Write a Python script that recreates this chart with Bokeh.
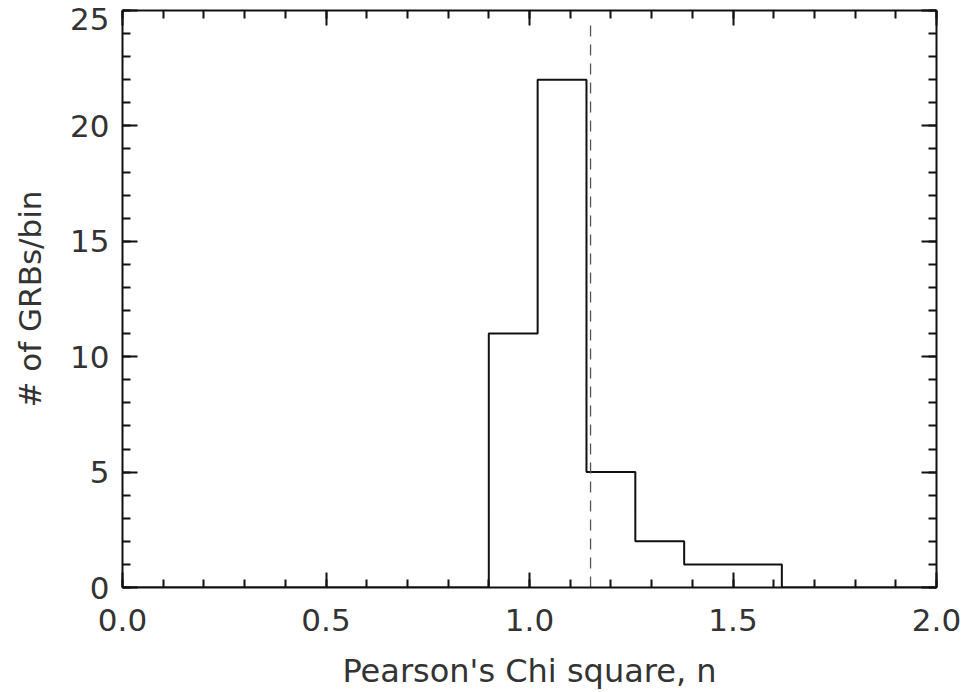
from bokeh.plotting import figure
from bokeh.models import FixedTicker, LinearAxis, PrintfTickFormatter, Range1d
from bokeh.embed import file_html
from bokeh.resources import INLINE

# Histogram data (bin edges and counts)
bin_edges = [0.90, 1.02, 1.14, 1.26, 1.38, 1.50, 1.62]
counts = [11, 22, 5, 2, 1, 1]
x_min, x_max = 0.0, 2.0
y_min, y_max = 0, 25
chi_mark = 1.15

x_major = [0.0, 0.5, 1.0, 1.5, 2.0]
x_minor = [round(0.1 * i, 1) for i in range(0, 21)]
y_major = [0, 5, 10, 15, 20, 25]
y_minor = list(range(0, 26))

FONT = "DejaVu Sans"
TXT = "#333333"

p = figure(width=969, height=692, output_backend="svg", toolbar_location=None,
           x_range=Range1d(x_min, x_max), y_range=Range1d(y_min, y_max),
           min_border_left=122, min_border_right=33, min_border_top=10,
           min_border_bottom=104, x_axis_location=None, y_axis_location=None)
p.grid.visible = False
p.outline_line_color = None
p.background_fill_color = "white"
p.border_fill_color = "white"

xt = FixedTicker(ticks=x_major, minor_ticks=x_minor)
yt = FixedTicker(ticks=y_major, minor_ticks=y_minor)


def style(ax, labels=True):
    ax.axis_line_color = "#111111"
    ax.axis_line_width = 2
    ax.major_tick_in = 15
    ax.major_tick_out = 0
    ax.minor_tick_in = 8
    ax.minor_tick_out = 0
    ax.major_tick_line_color = "#111111"
    ax.minor_tick_line_color = "#111111"
    ax.major_tick_line_width = 2
    ax.minor_tick_line_width = 2
    if labels:
        ax.major_label_text_font = FONT
        ax.major_label_text_font_size = "31px"
        ax.major_label_text_color = TXT
        ax.axis_label_text_font = FONT
        ax.axis_label_text_font_size = "31px"
        ax.axis_label_text_font_style = "normal"
        ax.axis_label_text_color = TXT
    else:
        ax.major_label_text_font_size = "0px"


xb = LinearAxis(ticker=xt, formatter=PrintfTickFormatter(format="%.1f"),
                axis_label="Pearson's Chi square, n")
style(xb)
xb.axis_label_text_font_size = "32px"
xb.major_label_standoff = 21
xb.axis_label_standoff = 18
p.add_layout(xb, "below")

# the top label is pushed down a little so it stays inside the page
yl = LinearAxis(ticker=yt, axis_label="# of GRBs/bin",
                major_label_overrides={y_max: "\n" + str(y_max)})
style(yl)
yl.major_label_text_line_height = 0.0
yl.major_label_standoff = 13
yl.axis_label_standoff = 19
p.add_layout(yl, "left")

xa = LinearAxis(ticker=xt)
style(xa, labels=False)
p.add_layout(xa, "above")

yr = LinearAxis(ticker=yt)
style(yr, labels=False)
p.add_layout(yr, "right")

# step outline of the histogram
step_x = [x_min] + bin_edges + [x_max]
step_y = [0] + counts + [0, 0]
p.step(step_x, step_y, mode="after", line_color="#111111", line_width=2)

# dashed marker line
p.line([chi_mark, chi_mark], [0, 24.7], line_color="#555555", line_width=1.3,
       line_dash="11 8")

open("out.html", "w").write(file_html(p, INLINE))
